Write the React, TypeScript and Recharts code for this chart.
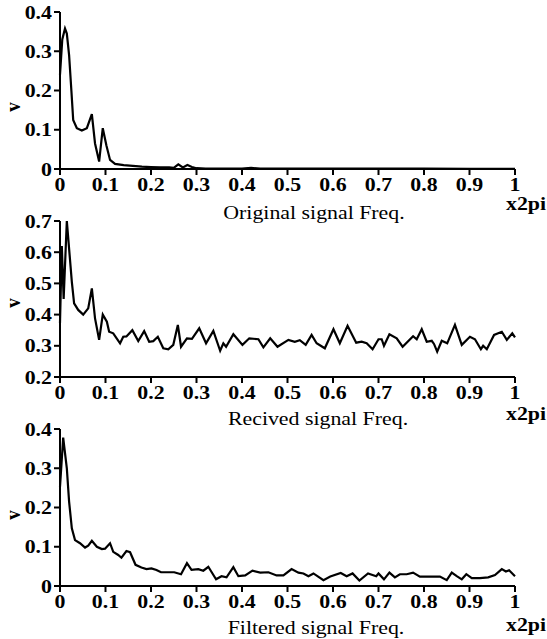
import React from "react";
import { LineChart, Line, XAxis, YAxis } from "recharts";

const xTicks = [0, 0.1, 0.2, 0.3, 0.4, 0.5, 0.6, 0.7, 0.8, 0.9, 1];
const yTicksOrig = [0, 0.1, 0.2, 0.3, 0.4];
const yTicksRecv = [0.2, 0.3, 0.4, 0.5, 0.6, 0.7];
const yTicksFilt = [0, 0.1, 0.2, 0.3, 0.4];

const titles = ["Original signal Freq.", "Recived signal Freq.", "Filtered signal Freq."];
const xUnit = "x2pi";
const yLabel = "v";

const origFreq = [0, 0.005, 0.011, 0.015, 0.02, 0.025, 0.029, 0.037, 0.048, 0.059, 0.07, 0.077, 0.086, 0.094, 0.102, 0.11, 0.121, 0.14, 0.16, 0.18, 0.2, 0.22, 0.24, 0.25, 0.26, 0.27, 0.28, 0.29, 0.3, 0.32, 0.35, 0.4, 0.42, 0.44, 0.5, 0.6, 0.7, 0.8, 0.9, 1];
const origVal = [0.24, 0.33, 0.358, 0.345, 0.29, 0.2, 0.125, 0.104, 0.098, 0.104, 0.14, 0.065, 0.019, 0.104, 0.06, 0.023, 0.013, 0.01, 0.008, 0.006, 0.005, 0.004, 0.004, 0.003, 0.012, 0.004, 0.01, 0.005, 0.002, 0.001, 0.001, 0.001, 0.003, 0.001, 0.001, 0.001, 0.001, 0.0008, 0.0005, 0.0005];

const recvFreq = [0, 0.004, 0.008, 0.015, 0.026, 0.031, 0.04, 0.051, 0.062, 0.07, 0.077, 0.086, 0.094, 0.103, 0.108, 0.117, 0.132, 0.139, 0.146, 0.159, 0.172, 0.185, 0.196, 0.205, 0.215, 0.227, 0.238, 0.249, 0.259, 0.266, 0.279, 0.29, 0.306, 0.321, 0.337, 0.352, 0.359, 0.365, 0.381, 0.401, 0.416, 0.436, 0.447, 0.462, 0.478, 0.502, 0.516, 0.527, 0.54, 0.553, 0.564, 0.582, 0.601, 0.615, 0.632, 0.651, 0.663, 0.674, 0.687, 0.7, 0.707, 0.712, 0.724, 0.74, 0.753, 0.776, 0.784, 0.795, 0.806, 0.817, 0.822, 0.829, 0.839, 0.851, 0.868, 0.883, 0.901, 0.912, 0.925, 0.93, 0.938, 0.954, 0.971, 0.982, 0.994, 1];
const recvVal = [0.373, 0.62, 0.45, 0.7, 0.505, 0.436, 0.415, 0.4, 0.42, 0.484, 0.388, 0.319, 0.4, 0.377, 0.345, 0.34, 0.308, 0.329, 0.33, 0.35, 0.315, 0.347, 0.313, 0.315, 0.329, 0.292, 0.289, 0.303, 0.367, 0.297, 0.324, 0.322, 0.356, 0.308, 0.348, 0.284, 0.308, 0.297, 0.337, 0.303, 0.324, 0.321, 0.295, 0.324, 0.297, 0.319, 0.313, 0.318, 0.303, 0.335, 0.308, 0.292, 0.353, 0.308, 0.364, 0.31, 0.313, 0.308, 0.289, 0.321, 0.321, 0.3, 0.337, 0.324, 0.297, 0.331, 0.321, 0.353, 0.313, 0.316, 0.306, 0.281, 0.316, 0.308, 0.367, 0.303, 0.329, 0.321, 0.289, 0.3, 0.289, 0.335, 0.345, 0.319, 0.34, 0.327];

const filtFreq = [0, 0.007, 0.015, 0.02, 0.026, 0.033, 0.044, 0.055, 0.062, 0.07, 0.081, 0.092, 0.099, 0.11, 0.117, 0.128, 0.135, 0.146, 0.154, 0.166, 0.179, 0.19, 0.201, 0.212, 0.222, 0.237, 0.251, 0.266, 0.279, 0.289, 0.304, 0.315, 0.326, 0.343, 0.355, 0.366, 0.381, 0.392, 0.407, 0.423, 0.44, 0.458, 0.476, 0.491, 0.509, 0.524, 0.535, 0.546, 0.557, 0.579, 0.594, 0.617, 0.63, 0.643, 0.658, 0.677, 0.695, 0.7, 0.712, 0.724, 0.736, 0.747, 0.762, 0.776, 0.791, 0.813, 0.835, 0.85, 0.861, 0.872, 0.883, 0.893, 0.905, 0.923, 0.941, 0.956, 0.971, 0.98, 0.987, 1];
const filtVal = [0.253, 0.378, 0.3, 0.215, 0.147, 0.117, 0.109, 0.098, 0.103, 0.115, 0.1, 0.094, 0.095, 0.109, 0.087, 0.079, 0.072, 0.089, 0.086, 0.054, 0.047, 0.043, 0.045, 0.041, 0.035, 0.035, 0.035, 0.03, 0.058, 0.041, 0.043, 0.039, 0.049, 0.017, 0.025, 0.022, 0.048, 0.025, 0.027, 0.039, 0.034, 0.035, 0.027, 0.027, 0.043, 0.034, 0.032, 0.025, 0.032, 0.015, 0.024, 0.033, 0.025, 0.032, 0.014, 0.032, 0.025, 0.032, 0.017, 0.034, 0.022, 0.03, 0.03, 0.034, 0.024, 0.024, 0.024, 0.015, 0.034, 0.025, 0.017, 0.03, 0.02, 0.02, 0.022, 0.028, 0.043, 0.037, 0.04, 0.025];

const FONT = "'Liberation Serif', 'Times New Roman', serif";
const FS = 19;
const SX = 1.15;

const fmt = (v: number) => (v === 0 ? "0" : v === 1 ? "1" : v.toFixed(1));

const XTick = (props: any) => {
  const { x, y, payload } = props;
  return (
    <text
      transform={`translate(${x},${y + 14}) scale(${SX},1)`}
      textAnchor="middle"
      fontFamily={FONT}
      fontSize={FS}
      fontWeight="bold"
      fill="#000"
    >
      {fmt(payload.value)}
    </text>
  );
};

const YTick = (props: any) => {
  const { x, y, payload } = props;
  return (
    <text
      transform={`translate(${x},${y + 6.5}) scale(${SX},1)`}
      textAnchor="end"
      fontFamily={FONT}
      fontSize={FS}
      fontWeight="bold"
      fill="#000"
    >
      {fmt(payload.value)}
    </text>
  );
};

type PanelProps = {
  freq: number[];
  vals: number[];
  yTicks: number[];
  top: number;
  plotH: number;
};

const CH = 222;

const Panel = ({ freq, vals, yTicks, top, plotH }: PanelProps) => {
  const data = freq.map((f, i) => ({ f, v: vals[i] }));
  const marginTop = 12;
  const xH = 30;
  const marginBottom = CH - marginTop - plotH - xH;
  return (
    <div style={{ position: "absolute", left: 0, top }}>
      <LineChart
        width={547}
        height={CH}
        data={data}
        margin={{ top: marginTop, right: 32, bottom: marginBottom, left: 10 }}
      >
        <XAxis
          dataKey="f"
          type="number"
          domain={[0, 1]}
          ticks={xTicks}
          height={xH}
          tick={<XTick />}
          tickSize={6}
          axisLine={{ stroke: "#000", strokeWidth: 2 }}
          tickLine={{ stroke: "#000", strokeWidth: 2 }}
          interval={0}
        />
        <YAxis
          type="number"
          domain={[yTicks[0], yTicks[yTicks.length - 1]]}
          ticks={yTicks}
          width={50}
          tick={<YTick />}
          tickSize={6}
          axisLine={{ stroke: "#000", strokeWidth: 2 }}
          tickLine={{ stroke: "#000", strokeWidth: 2 }}
          interval={0}
          allowDataOverflow
        />
        <Line
          dataKey="v"
          type="linear"
          stroke="#000"
          strokeWidth={2.2}
          dot={false}
          isAnimationActive={false}
        />
      </LineChart>
    </div>
  );
};

const textAt = (x: number, y: number, s: string, key: string, bold = false) => (
  <text
    key={key}
    transform={`translate(${x},${y}) scale(${SX},1)`}
    textAnchor="middle"
    fontFamily={FONT}
    fontSize={FS}
    fontWeight={bold ? "bold" : "normal"}
    fill="#000"
  >
    {s}
  </text>
);

const vLabel = (x: number, y: number, key: string) => (
  <text
    key={key}
    transform={`translate(${x},${y}) rotate(-90) scale(1,${SX})`}
    textAnchor="middle"
    fontFamily={FONT}
    fontSize={FS}
    fontWeight="bold"
    fill="#000"
  >
    {yLabel}
  </text>
);

export default function App() {
  return (
    <div
      style={{
        position: "absolute",
        left: 0,
        top: 0,
        width: 547,
        height: 639,
        overflow: "hidden",
        background: "#fff",
      }}
    >
      <Panel freq={origFreq} vals={origVal} yTicks={yTicksOrig} top={0} plotH={157} />
      <Panel freq={recvFreq} vals={recvVal} yTicks={yTicksRecv} top={209} plotH={156} />
      <Panel freq={filtFreq} vals={filtVal} yTicks={yTicksFilt} top={417} plotH={157} />
      <svg
        width={547}
        height={639}
        style={{ position: "absolute", left: 0, top: 0, pointerEvents: "none" }}
      >
        {textAt(314, 219, titles[0], "t0")}
        {textAt(526, 210, xUnit, "u0", true)}
        {vLabel(20, 107, "v0")}
        {textAt(318, 425, titles[1], "t1")}
        {textAt(526, 420, xUnit, "u1", true)}
        {vLabel(20, 303, "v1")}
        {textAt(316, 634, titles[2], "t2")}
        {textAt(526, 631, xUnit, "u2", true)}
        {vLabel(20, 515, "v2")}
      </svg>
    </div>
  );
}
